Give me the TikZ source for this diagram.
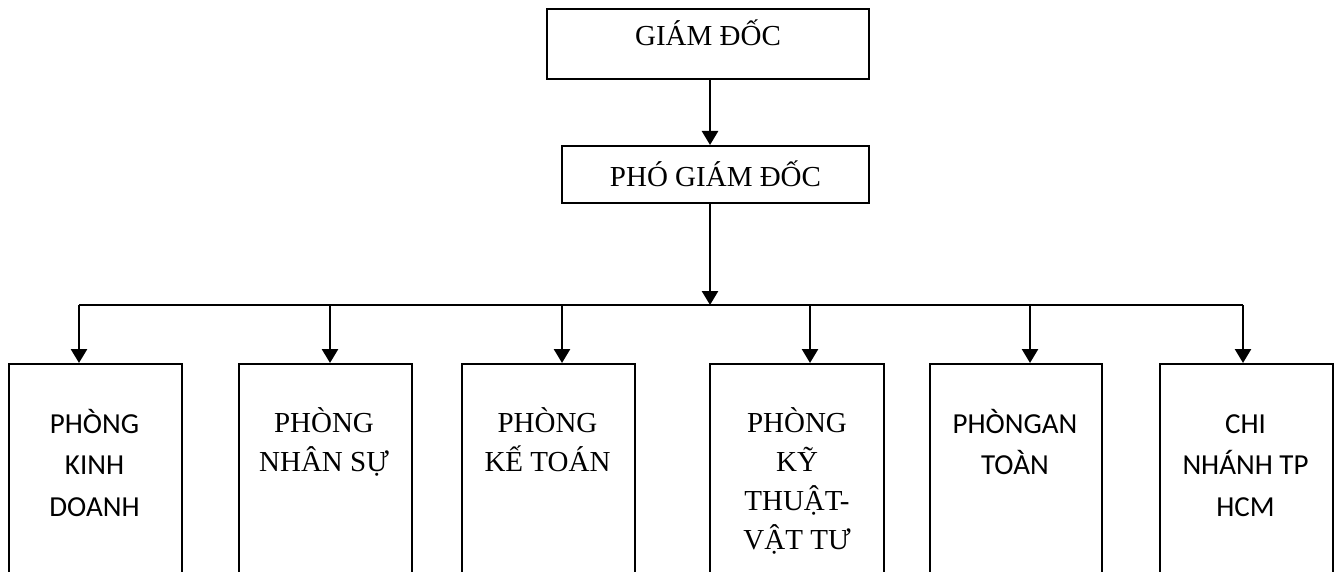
\documentclass[tikz,border=0pt]{standalone}
\usepackage{fontspec}
\setmainfont{Liberation Serif}
\newfontfamily\calib{Carlito}
\usetikzlibrary{arrows.meta}
\newcommand\stk[1]{\begin{tabular}[t]{@{}c@{}}#1\end{tabular}}
\tikzset{
  box/.style={draw, line width=2pt, inner sep=0pt},
  dept/.style={box, anchor=north west, minimum width=173pt, minimum height=300pt},
  conn/.style={line width=2.6pt, -{Triangle[width=16pt,length=14pt]}},
  bus/.style={line width=2.6pt},
  serif/.style={font=\fontsize{29}{39}\selectfont, inner sep=0pt, anchor=base},
  sans/.style={font=\calib\fontsize{29}{41.5}\selectfont, inner sep=0pt, anchor=base},
}
\begin{document}
\begin{tikzpicture}[x=1pt,y=-1pt]
\useasboundingbox (0,0) rectangle (1338,572);
\clip (0,0) rectangle (1338,572);
% top boxes
\node[box, minimum width=322pt, minimum height=70pt, font=\fontsize{29}{35}\selectfont, text height=12pt, text depth=8pt] (gd) at (708,44) {GIÁM ĐỐC};
\node[box, minimum width=307pt, minimum height=57pt, font=\fontsize{29}{35}\selectfont, text height=23pt, text depth=0pt] (pgd) at (715.5,174.5) {PHÓ GIÁM ĐỐC};
% departments
\node[dept] (b1) at (8,363) {};
\node[dept] (b2) at (238,363) {};
\node[dept] (b3) at (461,363) {};
\node[dept, minimum width=174pt] (b4) at (709,363) {};
\node[dept, minimum width=172pt] (b5) at (929,363) {};
\node[dept] (b6) at (1159,363) {};
% texts
\node[sans] (t1) at (94.5,433) {\stk{PHÒNG\\KINH\\DOANH}};
\node[serif] (t2) at (324,432) {\stk{PHÒNG\\NHÂN SỰ}};
\node[serif] (t3) at (547.5,432) {\stk{PHÒNG\\KẾ TOÁN}};
\node[serif] (t4) at (797,432) {\stk{PHÒNG\\KỸ\\THUẬT-\\VẬT TƯ}};
\node[sans] (t5) at (1015,433) {\stk{PHÒNGAN\\TOÀN}};
\node[sans] (t6) at (1245.5,433) {\stk{CHI\\NHÁNH TP\\HCM}};
% connectors
\coordinate (j) at (710,305);
\coordinate (d1) at (79,305);
\coordinate (d2) at (330,305);
\coordinate (d3) at (562,305);
\coordinate (d4) at (810,305);
\coordinate (d5) at (1030,305);
\coordinate (d6) at (1243,305);
\draw[conn] (gd.south -| j) -- (pgd.north -| j);
\draw[conn] (pgd.south -| j) -- (j);
\draw[bus] (d1) -- (d6);
\draw[conn] (d1) -- (d1 |- b1.north);
\draw[conn] (d2) -- (d2 |- b2.north);
\draw[conn] (d3) -- (d3 |- b3.north);
\draw[conn] (d4) -- (d4 |- b4.north);
\draw[conn] (d5) -- (d5 |- b5.north);
\draw[conn] (d6) -- (d6 |- b6.north);
\end{tikzpicture}
\end{document}
